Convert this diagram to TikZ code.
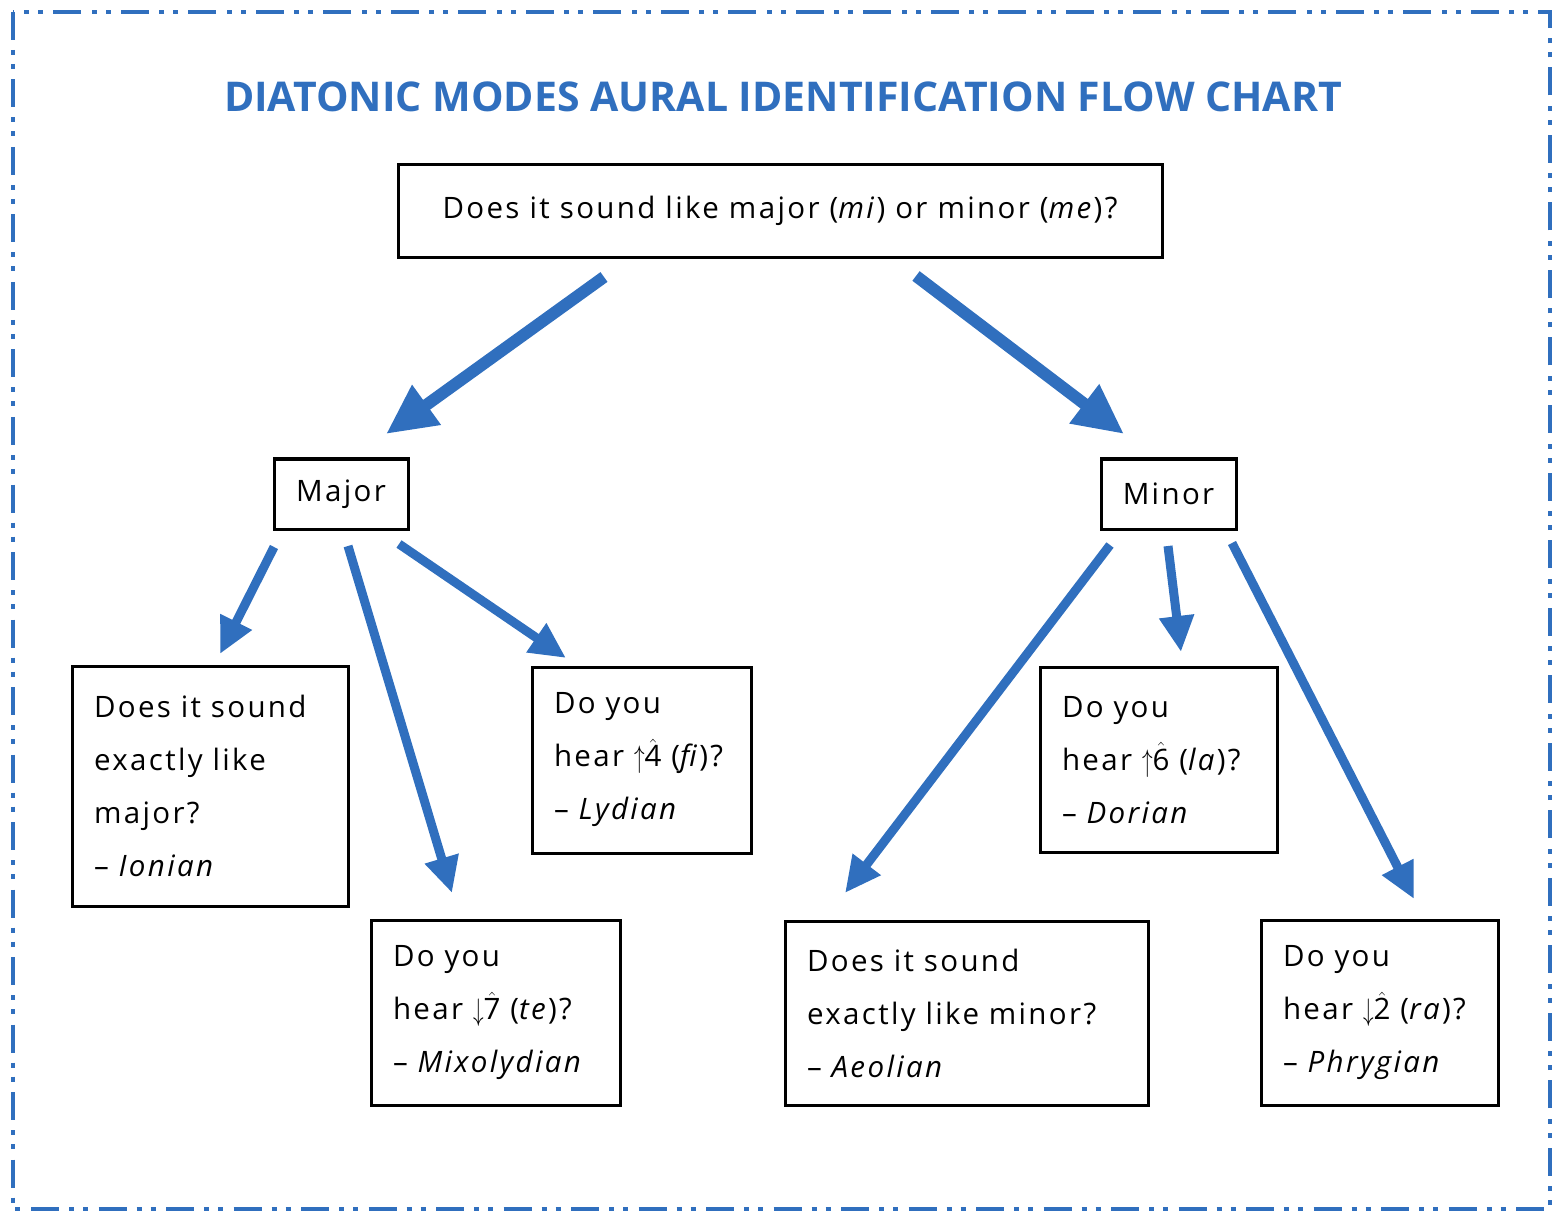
\documentclass[tikz,border=0pt]{standalone}
\usepackage{fontspec}
\usepackage{graphicx}
\setmainfont{Open Sans}
\newfontfamily\bodyfont{Open Sans}[LetterSpace=8]
\usetikzlibrary{arrows.meta}
\definecolor{flowblue}{RGB}{48,111,190}
\newcommand{\sdeg}[1]{\ensuremath{\hat{\mbox{#1}}}}
\newcommand{\uparr}{\raisebox{-1pt}{\scalebox{0.85}[1.25]{$\uparrow$}}}
\newcommand{\downarr}{\raisebox{-1pt}{\scalebox{0.85}[1.25]{$\downarrow$}}}
\tikzset{
  qbox/.style={draw=black, line width=3pt, inner sep=0pt, font=\bodyfont\fontsize{29.5}{53}\selectfont},
  tbox/.style={qbox, align=left, inner xsep=22pt},
  bigarrow/.style={draw=flowblue, line width=12pt, -{Triangle[length=50pt,width=46pt]}},
  smallarrow/.style={draw=flowblue, line width=9pt, -{Triangle[length=36pt,width=33pt]}},
}
\begin{document}
\begin{tikzpicture}[x=1pt,y=-1pt]
\useasboundingbox (0,0) rectangle (1564,1222);
\draw[flowblue, line width=3.5pt, dash pattern=on 28pt off 10pt on 5pt off 9pt on 5pt off 10.5pt] (13,12) rectangle (1550,1209);
\node[text=flowblue, font=\bfseries\fontsize{41}{50}\selectfont] (title) at (783,97) {DIATONIC MODES AURAL IDENTIFICATION FLOW CHART};

\node[qbox, minimum width=764pt, minimum height=93pt] (top) at (780,211) {Does it sound like major (\textit{mi}) or minor (\textit{me})?};
\node[qbox, minimum width=134pt, minimum height=70pt] (major) at (341,494) {Major};
\node[qbox, minimum width=135pt, minimum height=70pt] (minor) at (1168.5,494) {Minor};

\node[tbox, text width=232pt, minimum height=240pt] (ionian) at (210,786) {Does it sound\\exactly like\\major?\\\textendash\ \textit{Ionian}};
\node[tbox, text width=175pt, minimum height=186pt] (lydian) at (641.5,760) {Do you\\hear \uparr\sdeg{4} (\textit{fi})?\\\textendash\ \textit{Lydian}};
\node[tbox, text width=205pt, minimum height=185pt] (mixo) at (495.5,1013) {Do you\\hear \downarr\sdeg{7} (\textit{te})?\\\textendash\ \textit{Mixolydian}};
\node[tbox, text width=193pt, minimum height=185pt] (dorian) at (1158.5,760) {Do you\\hear \uparr\sdeg{6} (\textit{la})?\\\textendash\ \textit{Dorian}};
\node[tbox, text width=319pt, minimum height=184pt] (aeolian) at (966.5,1013) {Does it sound\\exactly like minor?\\\textendash\ \textit{Aeolian}};
\node[tbox, text width=193pt, minimum height=185pt] (phryg) at (1379.5,1013) {Do you\\hear \downarr\sdeg{2} (\textit{ra})?\\\textendash\ \textit{Phrygian}};

\coordinate (a1s) at (604,277); \coordinate (a1e) at (386,434);
\coordinate (a2s) at (916,276); \coordinate (a2e) at (1124,434);
\coordinate (b1s) at (274,547); \coordinate (b1e) at (220,654);
\coordinate (b2s) at (348,546); \coordinate (b2e) at (452,893);
\coordinate (b3s) at (399,544); \coordinate (b3e) at (566,658);
\coordinate (c1s) at (1110,545); \coordinate (c1e) at (845,893);
\coordinate (c2s) at (1168,546); \coordinate (c2e) at (1181,652);
\coordinate (c3s) at (1232,543); \coordinate (c3e) at (1414,899);

\draw[bigarrow] (a1s) -- (a1e);
\draw[bigarrow] (a2s) -- (a2e);
\draw[smallarrow] (b1s) -- (b1e);
\draw[smallarrow] (b2s) -- (b2e);
\draw[smallarrow] (b3s) -- (b3e);
\draw[smallarrow] (c1s) -- (c1e);
\draw[smallarrow] (c2s) -- (c2e);
\draw[smallarrow] (c3s) -- (c3e);
\end{tikzpicture}
\end{document}
